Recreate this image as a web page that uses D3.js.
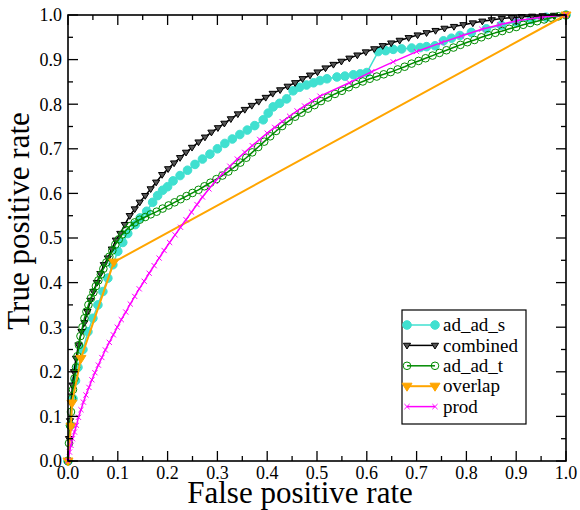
<!DOCTYPE html>
<html>
<head>
<meta charset="utf-8">
<script src="https://cdn.jsdelivr.net/npm/d3@7"></script>
<style>
  body { margin: 0; background: #fff; }
  svg { display: block; }
</style>
</head>
<body>
<svg id="chart" width="580" height="510" font-family="Liberation Serif, Times New Roman, DejaVu Serif, serif"></svg>
<script>
// data as [false positive rate, true positive rate]
const adAdS = [[0,0],[0.005,0.08],[0.01,0.14],[0.015,0.18],[0.02,0.21],[0.03,0.25],[0.04,0.29],[0.05,0.32],[0.06,0.35],[0.07,0.38],[0.08,0.41],[0.09,0.44],[0.10,0.47],[0.11,0.49],[0.12,0.51],[0.135,0.53],[0.145,0.545],[0.158,0.56],[0.17,0.58],[0.18,0.595],[0.19,0.607],[0.20,0.615],[0.211,0.628],[0.225,0.64],[0.24,0.652],[0.255,0.665],[0.27,0.677],[0.285,0.688],[0.30,0.70],[0.315,0.712],[0.33,0.722],[0.345,0.732],[0.36,0.742],[0.375,0.752],[0.392,0.765],[0.402,0.78],[0.412,0.794],[0.425,0.802],[0.439,0.812],[0.452,0.83],[0.465,0.838],[0.479,0.843],[0.493,0.848],[0.506,0.853],[0.52,0.857],[0.54,0.861],[0.556,0.863],[0.573,0.866],[0.587,0.868],[0.60,0.871],[0.623,0.918],[0.638,0.92],[0.653,0.923],[0.67,0.924],[0.69,0.926],[0.707,0.927],[0.72,0.929],[0.737,0.931],[0.754,0.942],[0.77,0.948],[0.787,0.954],[0.81,0.961],[0.84,0.969],[0.87,0.977],[0.9,0.984],[0.93,0.99],[0.96,0.995],[1,1]];

const combined = [[0,0],[0.002,0.05],[0.004,0.09],[0.006,0.13],[0.009,0.17],[0.012,0.20],[0.016,0.23],[0.021,0.26],[0.027,0.29],[0.033,0.31],[0.039,0.335],[0.045,0.36],[0.051,0.38],[0.058,0.40],[0.065,0.42],[0.072,0.44],[0.08,0.455],[0.088,0.475],[0.096,0.495],[0.105,0.51],[0.114,0.53],[0.124,0.55],[0.134,0.565],[0.144,0.58],[0.155,0.595],[0.166,0.61],[0.177,0.625],[0.189,0.642],[0.201,0.655],[0.213,0.668],[0.225,0.68],[0.237,0.692],[0.249,0.703],[0.262,0.715],[0.275,0.726],[0.288,0.737],[0.301,0.747],[0.314,0.757],[0.327,0.767],[0.341,0.778],[0.355,0.788],[0.369,0.797],[0.383,0.806],[0.397,0.815],[0.411,0.824],[0.426,0.832],[0.441,0.84],[0.456,0.848],[0.471,0.857],[0.486,0.865],[0.501,0.872],[0.517,0.881],[0.533,0.889],[0.549,0.896],[0.565,0.903],[0.581,0.91],[0.598,0.917],[0.615,0.924],[0.632,0.931],[0.649,0.937],[0.666,0.943],[0.684,0.949],[0.702,0.955],[0.72,0.96],[0.738,0.965],[0.756,0.97],[0.775,0.974],[0.794,0.978],[0.813,0.982],[0.832,0.986],[0.851,0.989],[0.871,0.992],[0.891,0.994],[0.911,0.996],[0.932,0.997],[0.953,0.998],[0.976,0.999],[1,1]];

const adAdT = [[0,0],[0.002,0.04],[0.004,0.08],[0.006,0.11],[0.008,0.14],[0.01,0.16],[0.013,0.185],[0.016,0.21],[0.019,0.235],[0.022,0.26],[0.025,0.28],[0.029,0.30],[0.033,0.32],[0.037,0.335],[0.041,0.35],[0.046,0.365],[0.051,0.378],[0.056,0.392],[0.061,0.405],[0.066,0.418],[0.071,0.431],[0.077,0.445],[0.083,0.458],[0.089,0.472],[0.095,0.485],[0.102,0.497],[0.109,0.508],[0.117,0.518],[0.125,0.527],[0.134,0.535],[0.144,0.541],[0.155,0.547],[0.166,0.553],[0.178,0.559],[0.19,0.566],[0.202,0.573],[0.214,0.58],[0.226,0.587],[0.238,0.594],[0.25,0.601],[0.262,0.608],[0.274,0.616],[0.286,0.624],[0.298,0.632],[0.31,0.64],[0.322,0.649],[0.334,0.659],[0.346,0.669],[0.358,0.68],[0.37,0.692],[0.382,0.704],[0.394,0.716],[0.406,0.728],[0.418,0.74],[0.43,0.751],[0.443,0.762],[0.456,0.772],[0.469,0.781],[0.482,0.79],[0.495,0.798],[0.508,0.807],[0.522,0.815],[0.536,0.823],[0.55,0.83],[0.564,0.838],[0.578,0.845],[0.592,0.851],[0.606,0.857],[0.62,0.862],[0.634,0.867],[0.648,0.872],[0.662,0.878],[0.676,0.884],[0.69,0.891],[0.704,0.897],[0.718,0.903],[0.732,0.909],[0.746,0.915],[0.76,0.921],[0.774,0.927],[0.788,0.933],[0.802,0.939],[0.816,0.944],[0.83,0.95],[0.844,0.955],[0.858,0.96],[0.872,0.964],[0.886,0.969],[0.9,0.973],[0.914,0.978],[0.928,0.982],[0.942,0.986],[0.956,0.99],[0.97,0.994],[0.985,0.997],[1,1]];

const overlap = [[0,0],[0.006,0.078],[0.008,0.13],[0.026,0.23],[0.092,0.446],[1,1]];

const prod = [[0,0],[0.003,0.02],[0.006,0.035],[0.009,0.05],[0.013,0.065],[0.017,0.08],[0.021,0.098],[0.026,0.115],[0.031,0.132],[0.036,0.148],[0.042,0.165],[0.048,0.182],[0.054,0.198],[0.061,0.215],[0.068,0.232],[0.075,0.249],[0.083,0.266],[0.091,0.283],[0.099,0.30],[0.107,0.317],[0.116,0.334],[0.125,0.352],[0.134,0.369],[0.143,0.386],[0.153,0.403],[0.163,0.421],[0.173,0.438],[0.183,0.455],[0.193,0.472],[0.204,0.49],[0.215,0.507],[0.226,0.524],[0.237,0.541],[0.248,0.558],[0.259,0.575],[0.27,0.592],[0.283,0.61],[0.296,0.627],[0.31,0.644],[0.325,0.661],[0.34,0.677],[0.355,0.692],[0.37,0.707],[0.385,0.721],[0.4,0.735],[0.415,0.748],[0.43,0.761],[0.445,0.773],[0.46,0.785],[0.475,0.796],[0.49,0.807],[0.506,0.818],[0.565,0.848],[0.61,0.873],[0.653,0.895],[0.70,0.918],[0.75,0.938],[0.79,0.953],[0.831,0.968],[0.867,0.978],[0.901,0.987],[0.95,0.995],[1,1]];

const seriesNames = ["ad_ad_s", "combined", "ad_ad_t", "overlap", "prod"];
const majorTicks = [0, 0.1, 0.2, 0.3, 0.4, 0.5, 0.6, 0.7, 0.8, 0.9, 1.0];
const minorTicks = [0.05, 0.15, 0.25, 0.35, 0.45, 0.55, 0.65, 0.75, 0.85, 0.95];

const svg = d3.select("#chart");
const box = { left: 68, right: 566, top: 15, bottom: 461 };

const x = d3.scaleLinear().domain([0, 1]).range([box.left, box.right]);
const y = d3.scaleLinear().domain([0, 1]).range([box.bottom, box.top]);

const line = d3.line().x(d => x(d[0])).y(d => y(d[1]));

// how each set looks
const styles = [
  { data: adAdS, color: "#40e0d0", width: 1.5, sym: "circle", size: 4.3, fill: "#40e0d0" },
  { data: combined, color: "#000000", width: 1.5, sym: "tri", size: 3.6, fill: "#555" },
  { data: adAdT, color: "#008b00", width: 1.5, sym: "circle", size: 3.8, fill: "none" },
  { data: overlap, color: "#ffa500", width: 2, sym: "tri", size: 5, fill: "#ffa500" },
  { data: prod, color: "#ff00ff", width: 1.5, sym: "x", size: 2.6, fill: "none" }
];

function drawSymbol(g, s, px, py) {
  if (s.sym === "circle") {
    g.append("circle").attr("cx", px).attr("cy", py).attr("r", s.size)
      .attr("fill", s.fill)
      .attr("stroke", s.color).attr("stroke-width", 1);
  } else if (s.sym === "tri") {
    const r = s.size;
    g.append("path")
      .attr("d", `M${px - r},${py - r * 0.6}L${px + r},${py - r * 0.6}L${px},${py + r}Z`)
      .attr("fill", s.fill).attr("stroke", s.color).attr("stroke-width", 1);
  } else {
    const r = s.size;
    g.append("path")
      .attr("d", `M${px - r},${py - r}L${px + r},${py + r}M${px - r},${py + r}L${px + r},${py - r}`)
      .attr("stroke", s.color).attr("stroke-width", 1);
  }
}

const plot = svg.append("g");
styles.forEach(s => {
  const g = plot.append("g");
  g.append("path").datum(s.data)
    .attr("fill", "none").attr("stroke", s.color)
    .attr("stroke-width", s.width).attr("stroke-linejoin", "round")
    .attr("d", line);
  s.data.forEach(d => drawSymbol(g, s, x(d[0]), y(d[1])));
});

// frame + inward ticks
const frame = svg.append("g").attr("stroke", "#000").attr("fill", "none");
frame.append("rect").attr("x", box.left).attr("y", box.top)
  .attr("width", box.right - box.left).attr("height", box.bottom - box.top).attr("stroke-width", 1.6);

function ticks(vals, len) {
  vals.forEach(v => {
    frame.append("line").attr("x1", x(v)).attr("x2", x(v)).attr("y1", box.bottom).attr("y2", box.bottom - len).attr("stroke-width", 1.3);
    frame.append("line").attr("x1", x(v)).attr("x2", x(v)).attr("y1", box.top).attr("y2", box.top + len).attr("stroke-width", 1.3);
    frame.append("line").attr("y1", y(v)).attr("y2", y(v)).attr("x1", box.left).attr("x2", box.left + len).attr("stroke-width", 1.3);
    frame.append("line").attr("y1", y(v)).attr("y2", y(v)).attr("x1", box.right).attr("x2", box.right - len).attr("stroke-width", 1.3);
  });
}
ticks(majorTicks, 10);
ticks(minorTicks, 5);

const fmt = d3.format(".1f");
svg.append("g").selectAll("text").data(majorTicks).join("text")
  .attr("x", d => x(d)).attr("y", box.bottom + 18)
  .attr("text-anchor", "middle").attr("font-size", 18)
  .text(d => fmt(d));
svg.append("g").selectAll("text").data(majorTicks).join("text")
  .attr("x", box.left - 6).attr("y", d => y(d)).attr("dy", "0.35em")
  .attr("text-anchor", "end").attr("font-size", 18)
  .text(d => fmt(d));

svg.append("text").attr("x", 300).attr("y", 503)
  .attr("text-anchor", "middle").attr("font-size", 31)
  .text("False positive rate");
svg.append("text").attr("transform", "translate(29,221) rotate(-90)")
  .attr("text-anchor", "middle").attr("font-size", 31)
  .text("True positive rate");

// legend
const legend = svg.append("g");
legend.append("rect").attr("x", 402).attr("y", 310).attr("width", 124).attr("height", 114)
  .attr("fill", "#fff").attr("stroke", "#000").attr("stroke-width", 1.2);
styles.forEach((s, i) => {
  const ly = 325 + i * 20.4;
  legend.append("line").attr("x1", 407).attr("x2", 435).attr("y1", ly).attr("y2", ly)
    .attr("stroke", s.color).attr("stroke-width", s.width);
  drawSymbol(legend, s, 407, ly);
  drawSymbol(legend, s, 435, ly);
  legend.append("text").attr("x", 443).attr("y", ly).attr("dy", "0.33em")
    .attr("font-size", 19).text(seriesNames[i]);
});
</script>
</body>
</html>
